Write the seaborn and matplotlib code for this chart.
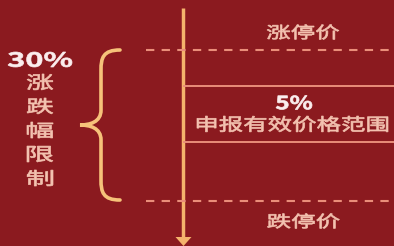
import seaborn as sns
import matplotlib.pyplot as plt
from matplotlib.path import Path
from matplotlib.patches import PathPatch, Polygon
from matplotlib.textpath import TextPath
from matplotlib.font_manager import FontProperties
from matplotlib.transforms import Affine2D

# diagram texts
limit_pct = "30%"
limit_label = "涨跌幅限制"
band_pct = "5%"
band_label = "申报有效价格范围"
price_labels = ["涨停价", "跌停价"]

bg = "#8b1a1f"
arrow_col = "#f5b36c"
dash_col = "#ea8e7a"
text_col = "#f3c2b0"
white_col = "#fbeeee"

sns.set_theme(style="white")
plt.rcParams['font.family'] = ['Noto Sans CJK SC', 'DejaVu Sans']

fig = plt.figure(figsize=(3.94, 2.46), dpi=100, facecolor=bg)
ax = fig.add_axes([0, 0, 1, 1])
ax.set_facecolor(bg)
ax.set_xlim(0, 394)
ax.set_ylim(246, 0)
ax.axis('off')


def draw_text(s, x, y, w, h, color, bold=False, stroke=0.5):
    # glyphs in the source are stretched sideways, so draw them as paths
    fp = FontProperties(family='Noto Sans CJK SC', weight='bold' if bold else 'normal')
    tp = TextPath((0, 0), s, size=10, prop=fp)
    ext = tp.get_extents()
    tr = Affine2D().translate(-(ext.x0 + ext.width / 2), -(ext.y0 + ext.height / 2)) \
        .scale(w / ext.width, -h / ext.height).translate(x, y)
    ax.add_patch(PathPatch(tr.transform_path(tp), facecolor=color, edgecolor=color, lw=stroke))


# vertical arrow
ax.vlines(183, 8, 240, colors=arrow_col, lw=2.5)
ax.add_patch(Polygon([(175.5, 237), (191.5, 237), (183.5, 246)], closed=True,
                     color=arrow_col, lw=0))

# limit lines (dashed) and band lines (solid)
ax.hlines([50, 201], 146, 394, colors=dash_col, lw=1.5, linestyles=(0, (4, 3.5)))
ax.hlines([86, 142], 183, 394, colors=dash_col, lw=1.4)

# curly brace
verts = [(120, 50), (103, 50), (101, 58), (101, 70),
         (101, 110),
         (101, 122), (90, 125), (80, 125),
         (90, 125), (101, 128), (101, 140),
         (101, 180),
         (101, 192), (103, 200), (120, 200)]
codes = [Path.MOVETO, Path.CURVE4, Path.CURVE4, Path.CURVE4,
         Path.LINETO,
         Path.CURVE4, Path.CURVE4, Path.CURVE4,
         Path.CURVE4, Path.CURVE4, Path.CURVE4,
         Path.LINETO,
         Path.CURVE4, Path.CURVE4, Path.CURVE4]
ax.add_patch(PathPatch(Path(verts, codes), fill=False, edgecolor="#f6c27a", lw=2.6,
                       capstyle='round'))

# left labels
draw_text(limit_pct, 40, 59.5, 64, 15, white_col, bold=True)
for i, ch in enumerate(limit_label):
    draw_text(ch, 40, 82 + i * 24, 26, 16, text_col)

# right labels
draw_text(price_labels[0], 303, 32, 72, 15, text_col)
draw_text(band_pct, 294, 102.5, 36, 14, white_col, bold=True)
draw_text(band_label, 292.5, 124, 191, 16, text_col)
draw_text(price_labels[1], 303.5, 221, 72, 15, text_col)

fig.savefig("out.png", dpi=100, facecolor=bg)
